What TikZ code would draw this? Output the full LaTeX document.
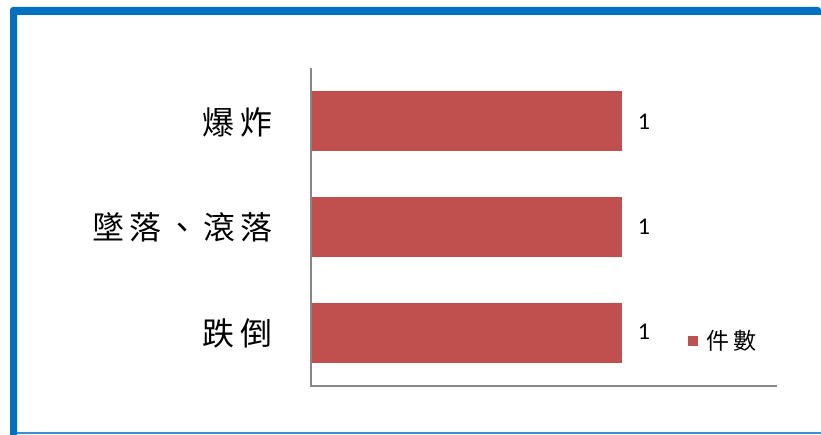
\documentclass[tikz,border=0pt]{standalone}
\usepackage{fontspec}
\newfontfamily\cjk{Noto Sans CJK TC}
\newfontfamily\numf{Carlito}
\definecolor{barred}{HTML}{C0504D}
\definecolor{frameblue}{HTML}{0070C0}
\definecolor{lightblue}{HTML}{3A8FD0}
\definecolor{axisgray}{HTML}{868686}
\begin{document}
\begin{tikzpicture}[x=1pt,y=-1pt,
  bar/.style={fill=barred,draw=none},
  cat/.style={anchor=east,inner sep=0pt,font=\cjk\fontsize{32}{36}\selectfont},
  val/.style={inner sep=0pt,font=\numf\fontsize{24}{28}\selectfont},
  axisline/.style={draw=axisgray,line width=1.6pt}]
\useasboundingbox (0,0) rectangle (821,435);
\fill[white] (0,0) rectangle (821,435);
% frame
\draw[lightblue,line width=1.2pt] (10,433) -- (821,433);
\fill[frameblue] (10,435) -- (10,12) [rounded corners=3pt]-- (10,7) -- (821,7) [sharp corners]-- (821,15) -- (17,15) -- (17,435) -- cycle;
% axes
\coordinate (ytop) at (311,68);
\coordinate (orig) at (311,386);
\coordinate (xend) at (777,386);
\draw[axisline] (ytop) -- (orig) -- (xend);
% bars
\node[bar,minimum width=310pt,minimum height=60pt,inner sep=0pt,anchor=north west] (b1) at (312,91) {};
\node[bar,minimum width=310pt,minimum height=60pt,inner sep=0pt,anchor=north west] (b2) at (312,197) {};
\node[bar,minimum width=310pt,minimum height=60pt,inner sep=0pt,anchor=north west] (b3) at (312,303) {};
% labels
\node[cat] (l1) at (273,122) {爆\kern6pt炸};
\node[cat] (l2) at (273,227) {墜\kern5pt落\kern5pt、\kern5pt滾\kern5pt落};
\node[cat] (l3) at (273,333) {跌\kern6pt倒};
% values
\node[val] (v1) at (644,122) {1};
\node[val] (v2) at (644,227) {1};
\node[val] (v3) at (644,332) {1};
% legend
\node[fill=barred,minimum size=10pt,inner sep=0pt] (lk) at (693,341) {};
\node[anchor=west,inner sep=0pt,font=\cjk\fontsize{23}{26}\selectfont] (lt) at (706,341) {件\kern4pt數};
\end{tikzpicture}
\end{document}
